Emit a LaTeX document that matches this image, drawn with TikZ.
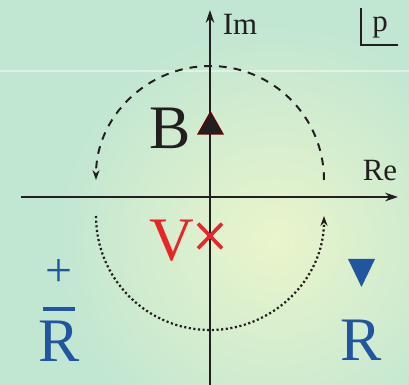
\documentclass[tikz,border=0pt]{standalone}
\usepackage{fontspec}
\setmainfont{Liberation Serif}
\usetikzlibrary{arrows.meta}

\definecolor{bggreen}{HTML}{C1E6D2}
\definecolor{bgglow}{HTML}{EAF5CB}
\definecolor{poledark}{HTML}{231F20}
\definecolor{polered}{HTML}{E8262A}
\definecolor{poleblue}{HTML}{2255A0}

\begin{document}
\begin{tikzpicture}[
  axis/.style={line width=1.4pt, draw=poledark, -{Stealth[length=9pt,width=6pt]}},
  contour/.style={line width=1.4pt, draw=poledark, -{Stealth[length=7pt,width=5pt]}},
  smalllabel/.style={text=poledark, font=\fontsize{22}{22}\selectfont, inner sep=0pt},
  biglabel/.style={font=\fontsize{44}{44}\selectfont, inner sep=0pt}
]

% Parameters
\def\rad{2.85}        % radius of both contours

% Background with a soft glow
\useasboundingbox (-5.25,-4.7) rectangle (4.975,4.925);
\fill[bggreen] (-5.25,-4.7) rectangle (4.975,4.925);
\begin{scope}
  \clip (-5.25,-4.7) rectangle (4.975,4.925);
  \shade[inner color=bgglow, outer color=bggreen] (1.6,-1.1) circle (5.5);
\end{scope}
\draw[white, opacity=0.45, line width=0.8pt] (-5.25,3.15) -- (4.975,3.15);

% Axes
\coordinate (reL) at (-4.725,0);
\coordinate (reR) at (4.7,0);
\coordinate (imB) at (0,-4.7);
\coordinate (imT) at (0,4.675);
\draw[axis] (reL) -- (reR);
\draw[axis] (imB) -- (imT);
\node[smalllabel] (im) at (0.75,4.325) {Im};
\node[smalllabel] (re) at (4.25,0.65) {Re};

% Variable box (p)
\node[smalllabel] (pvar) at (4.25,4.225) {p};
\draw[line width=1.4pt, poledark] (3.775,4.725) -- (3.775,3.8) -- (4.7,3.8);

% Upper contour (dashed), lower contour (dotted)
\draw[contour, dash pattern=on 5.5pt off 5pt] (\rad,0.425) arc (0:180:\rad);
\draw[contour, line width=1.6pt, dash pattern=on 1.5pt off 1.8pt] (-\rad,-0.475) arc (180:360:\rad);

% Bound state
\filldraw[fill=poledark, draw=black!60!red, line width=0.8pt]
  (-0.3,1.575) -- (0.325,1.575) -- (0.0125,2.125) -- cycle;
\node[biglabel, text=poledark] (bound) at (-1.0,1.725) {B};

% Virtual state
\draw[polered, line width=2.6pt] (-0.3,-0.665) -- (0.3,-1.285);
\draw[polered, line width=2.6pt] (-0.3,-1.285) -- (0.3,-0.665);
\node[biglabel, text=polered] (virt) at (-0.95,-1.1) {V};

% Resonance and anti-resonance
\fill[poleblue] (3.45,-1.55) -- (4.125,-1.55) -- (3.7875,-2.25) -- cycle;
\node[biglabel, text=poleblue] (res) at (3.775,-3.575) {R};
\node[text=poleblue, font=\fontsize{34}{34}\selectfont, inner sep=0pt] (plus) at (-3.775,-1.9) {+};
\node[biglabel, text=poleblue] (antires) at (-3.775,-3.6) {R};
\draw[poleblue, line width=2.3pt] (-4.175,-2.8) -- (-3.375,-2.8);

\end{tikzpicture}
\end{document}
